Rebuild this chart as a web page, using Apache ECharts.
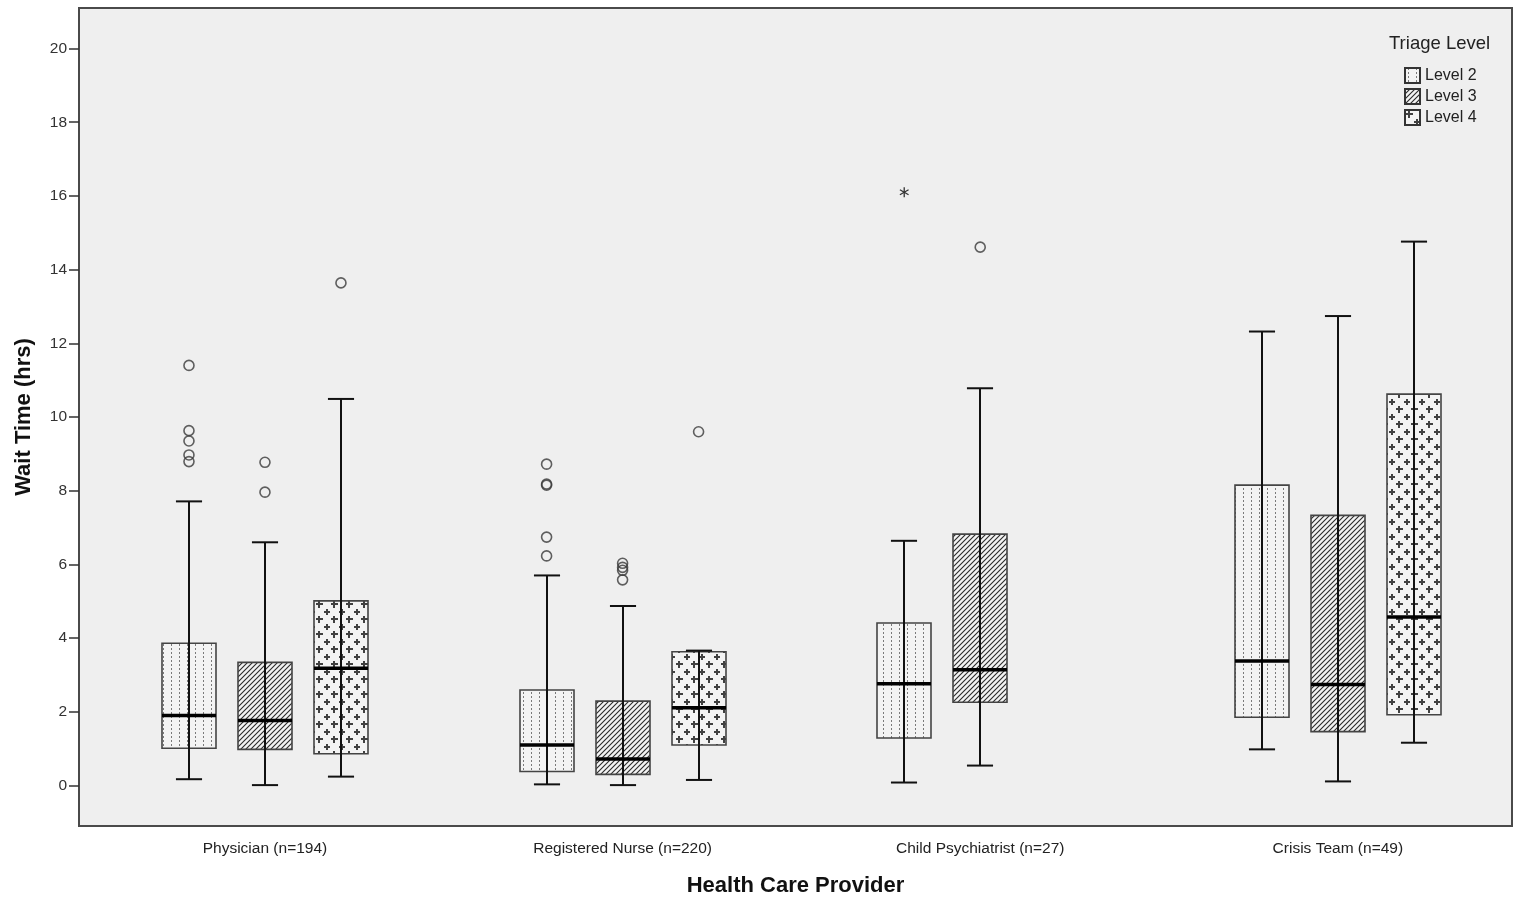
<!DOCTYPE html>
<html>
<head>
<meta charset="utf-8">
<script src="https://cdn.jsdelivr.net/npm/echarts@6/dist/echarts.min.js"></script>
<style>
  html, body { margin: 0; padding: 0; background: #fff; }
  #chart { width: 1516px; height: 898px; }
</style>
</head>
<body>
<div id="chart"></div>
<script>
// categories and levels
var categories = ['Physician (n=194)', 'Registered Nurse (n=220)', 'Child Psychiatrist (n=27)', 'Crisis Team (n=49)']
var levels = ['Level 2', 'Level 3', 'Level 4']
var yTicks = [0, 2, 4, 6, 8, 10, 12, 14, 16, 18, 20]

// box stats per category: [min, q1, median, q3, max] (null = no data)
var level2Box = [[0.17, 1.01, 1.90, 3.86, 7.71], [0.03, 0.38, 1.10, 2.59, 5.70], [0.08, 1.29, 2.76, 4.41, 6.64], [0.98, 1.85, 3.38, 8.15, 12.32]]
var level3Box = [[0.01, 0.98, 1.76, 3.34, 6.60], [0.01, 0.30, 0.72, 2.29, 4.87], [0.54, 2.26, 3.14, 6.82, 10.78], [0.11, 1.46, 2.74, 7.33, 12.74]]
var level4Box = [[0.24, 0.86, 3.18, 5.01, 10.49], [0.15, 1.10, 2.11, 3.63, 3.66], null, [1.16, 1.92, 4.57, 10.62, 14.76]]

// outliers: [categoryIndex, value]
var level2Outliers = [[0, 11.40], [0, 9.63], [0, 9.35], [0, 8.97], [0, 8.79], [1, 8.72], [1, 8.18], [1, 8.15], [1, 6.74], [1, 6.23]]
var level3Outliers = [[0, 8.77], [0, 7.96], [1, 6.03], [1, 5.92], [1, 5.84], [1, 5.58], [2, 14.61]]
var level4Outliers = [[0, 13.64], [1, 9.60]]
// extremes (asterisk): [categoryIndex, value]
var level2Extremes = [[2, 16.10]]

// layout constants
var LEVEL_OFFSET = [-0.2125, 0, 0.2125]
var BOX_W = 0.151
var CAP_W = 0.073

function makeCanvas(w, h, draw) {
    var c = document.createElement('canvas')
    c.width = w
    c.height = h
    var ctx = c.getContext('2d')
    ctx.fillStyle = '#f3f3f3'
    ctx.fillRect(0, 0, w, h)
    draw(ctx)
    return { image: c, repeat: 'repeat' }
}

// dotted vertical lines
var pattern2 = makeCanvas(8, 4, function (ctx) {
    ctx.fillStyle = '#7a7a7a'
    ctx.fillRect(3, 0, 1, 2)
})
// diagonal hatching
var pattern3 = makeCanvas(5, 5, function (ctx) {
    ctx.strokeStyle = '#2a2a2a'
    ctx.lineWidth = 1.1
    ctx.beginPath()
    ctx.moveTo(-1, 6); ctx.lineTo(6, -1)
    ctx.moveTo(-6, 6); ctx.lineTo(1, -1)
    ctx.moveTo(4, 6); ctx.lineTo(11, -1)
    ctx.stroke()
})
// staggered plus signs
var pattern4 = makeCanvas(15, 15, function (ctx) {
    ctx.fillStyle = '#404040'
    var pts = [[4, 4], [11.5, 11.5]]
    pts.forEach(function (p) {
        var x = Math.round(p[0]), y = Math.round(p[1])
        ctx.fillRect(x - 3, y - 1, 7, 2)
        ctx.fillRect(x - 1, y - 3, 2, 7)
    })
})
var patterns = [pattern2, pattern3, pattern4]

function boxData(stats, li) {
    var out = []
    stats.forEach(function (s, ci) {
        if (s) out.push([ci + LEVEL_OFFSET[li]].concat(s))
    })
    return out
}

function pointData(list, li) {
    return list.map(function (p) { return [p[0] + LEVEL_OFFSET[li], p[1]] })
}

function makeBoxRender(pattern) {
    return function (params, api) {
        var x = api.value(0)
        var lo = api.coord([x, api.value(1)])
        var q1 = api.coord([x, api.value(2)])
        var md = api.coord([x, api.value(3)])
        var q3 = api.coord([x, api.value(4)])
        var hi = api.coord([x, api.value(5)])
        var bw = api.size([BOX_W, 0])[0]
        var cw = api.size([CAP_W, 0])[0]
        var cx = Math.round(lo[0])
        return {
            type: 'group',
            children: [
                { type: 'rect', shape: { x: cx - bw / 2, y: q3[1], width: bw, height: q1[1] - q3[1] },
                  style: { fill: pattern, stroke: '#444', lineWidth: 1.6 } },
                { type: 'line', shape: { x1: cx, y1: lo[1], x2: cx, y2: hi[1] }, style: { stroke: '#111', lineWidth: 2 } },
                { type: 'line', shape: { x1: cx - cw / 2, y1: lo[1], x2: cx + cw / 2, y2: lo[1] }, style: { stroke: '#111', lineWidth: 2 } },
                { type: 'line', shape: { x1: cx - cw / 2, y1: hi[1], x2: cx + cw / 2, y2: hi[1] }, style: { stroke: '#111', lineWidth: 2 } },
                { type: 'line', shape: { x1: cx - bw / 2, y1: md[1], x2: cx + bw / 2, y2: md[1] }, style: { stroke: '#000', lineWidth: 3.5 } }
            ]
        }
    }
}

function renderStar(params, api) {
    var p = api.coord([api.value(0), api.value(1)])
    var r = 5
    var kids = [90, 30, 150].map(function (a) {
        var rad = a * Math.PI / 180
        return { type: 'line', shape: { x1: p[0] - r * Math.cos(rad), y1: p[1] - r * Math.sin(rad), x2: p[0] + r * Math.cos(rad), y2: p[1] + r * Math.sin(rad) },
                 style: { stroke: '#333', lineWidth: 1.3 } }
    })
    return { type: 'group', children: kids }
}

var boxSets = [level2Box, level3Box, level4Box]
var outlierSets = [level2Outliers, level3Outliers, level4Outliers]

var series = []
boxSets.forEach(function (stats, li) {
    series.push({
        name: levels[li],
        type: 'custom',
        renderItem: makeBoxRender(patterns[li]),
        itemStyle: { color: patterns[li], borderColor: '#333', borderWidth: 1.2 },
        encode: { x: 0, y: [1, 2, 3, 4, 5] },
        data: boxData(stats, li),
        z: 2
    })
})
outlierSets.forEach(function (list, li) {
    series.push({
        name: 'out' + li,
        type: 'scatter',
        symbol: 'circle',
        symbolSize: 10,
        itemStyle: { color: 'rgba(0,0,0,0)', borderColor: '#3a3a3a', borderWidth: 1.6 },
        data: pointData(list, li),
        z: 3
    })
})
series.push({
    name: 'extreme',
    type: 'custom',
    renderItem: renderStar,
    encode: { x: 0, y: 1 },
    data: pointData(level2Extremes, 0),
    z: 3
})

var chart = echarts.init(document.getElementById('chart'), null, { renderer: 'canvas' })
chart.setOption({
    animation: false,
    backgroundColor: '#fff',
    textStyle: { fontFamily: 'Liberation Sans, Arial, sans-serif' },
    title: {
        text: 'Triage Level',
        left: 1384,
        top: 29,
        textStyle: { fontSize: 18.5, fontWeight: 'normal', color: '#222' }
    },
    legend: {
        data: levels,
        orient: 'vertical',
        left: 1404,
        top: 67,
        padding: 0,
        icon: 'rect',
        itemWidth: 15,
        itemHeight: 15,
        itemGap: 4,
        textStyle: { fontSize: 16, color: '#222' }
    },
    grid: {
        left: 79, top: 8, right: 4, bottom: 72,
        outerBoundsMode: 'none',
        show: true,
        backgroundColor: '#efefef',
        borderColor: '#4a4a4a',
        borderWidth: 2
    },
    xAxis: {
        type: 'value',
        min: -0.52,
        max: 3.487,
        name: 'Health Care Provider',
        nameLocation: 'middle',
        nameGap: 49,
        nameTextStyle: { fontSize: 22, fontWeight: 'bold', color: '#111' },
        axisLine: { show: true, onZero: false, lineStyle: { color: '#4a4a4a', width: 2 } },
        axisTick: { show: false },
        splitLine: { show: false },
        axisLabel: {
            customValues: [0, 1, 2, 3],
            formatter: function (v) { return categories[Math.round(v)] },
            fontSize: 15.5,
            color: '#222',
            margin: 15
        }
    },
    yAxis: {
        type: 'value',
        min: -1.1,
        max: 21.1,
        name: 'Wait Time (hrs)',
        nameLocation: 'middle',
        nameGap: 44,
        nameTextStyle: { fontSize: 22, fontWeight: 'bold', color: '#111' },
        axisLine: { show: true, onZero: false, lineStyle: { color: '#4a4a4a', width: 2 } },
        axisTick: { show: true, length: 10, customValues: yTicks, lineStyle: { color: '#333', width: 1.5 } },
        splitLine: { show: false },
        axisLabel: { customValues: yTicks, fontSize: 15.5, color: '#333', margin: 12 }
    },
    series: series
})
</script>
</body>
</html>
